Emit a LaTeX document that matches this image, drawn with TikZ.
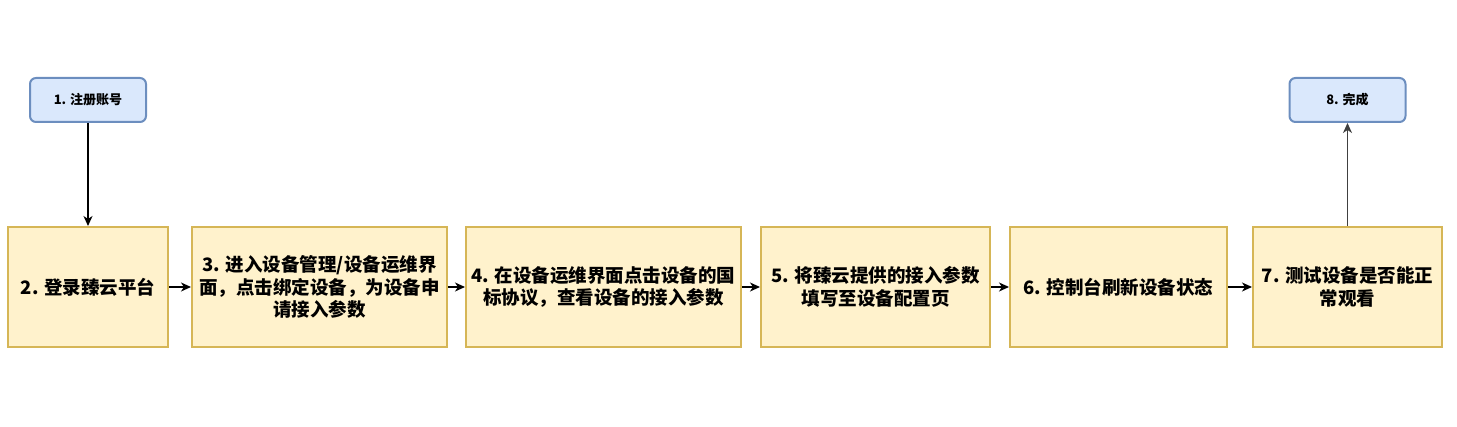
\documentclass[tikz,border=0pt]{standalone}
\usepackage{fontspec}
\setmainfont{Noto Sans CJK SC}
\usetikzlibrary{arrows.meta}
\definecolor{stepfill}{HTML}{FFF2CC}
\definecolor{stepline}{HTML}{D6B656}
\definecolor{endfill}{HTML}{DAE8FC}
\definecolor{endline}{HTML}{6C8EBF}
\tikzset{
    stepbox/.style={draw=stepline, fill=stepfill, line width=2pt, minimum height=120pt,
        align=center, inner sep=2pt, font=\bfseries\fontsize{18.5}{22.5}\selectfont},
    endbox/.style={draw=endline, fill=endfill, line width=2pt, rounded corners=6pt,
        minimum width=116pt, minimum height=44pt, font=\bfseries\fontsize{13}{15}\selectfont},
    flow/.style={-{Stealth[length=10pt,width=9pt,inset=3pt]}, line width=1.3pt}
}

\begin{document}
\begin{tikzpicture}[x=1pt, y=-1pt]
            \useasboundingbox (0, 0) rectangle (1457, 427);
            \node[endbox] (reg) at (88, 100) {1. 注册账号};
            \node[endbox] (done) at (1347.5, 100) {8. 完成};
            
            \node[stepbox, minimum width=160pt] (login) at (88, 287) {2. 登录臻云平台};
            \node[stepbox, minimum width=255pt] (bind) at (319.5, 287) {3. 进入设备管理/设备运维界\\面，点击绑定设备，为设备申\\请接入参数};
            \node[stepbox, minimum width=275pt] (query) at (603.5, 287) {4. 在设备运维界面点击设备的国\\标协议，查看设备的接入参数};
            \node[stepbox, minimum width=229pt] (fill) at (875.5, 287) {5. 将臻云提供的接入参数\\填写至设备配置页};
            \node[stepbox, minimum width=217pt] (refresh) at (1118.5, 287) {6. 控制台刷新设备状态};
            \node[stepbox, minimum width=189pt] (test) at (1347.5, 287) {7. 测试设备是否能正\\常观看};
            
            \draw[flow] (reg) -- (login);
            \draw[flow] (login) -- (bind);
            \draw[flow] (bind) -- (query);
            \draw[flow] (query) -- (fill);
            \draw[flow] (fill) -- (refresh);
            \draw[flow] (refresh) -- (test);
            \draw[flow, draw=black!75, fill=black!75] (test) -- (done);
        \end{tikzpicture}
\end{document}
